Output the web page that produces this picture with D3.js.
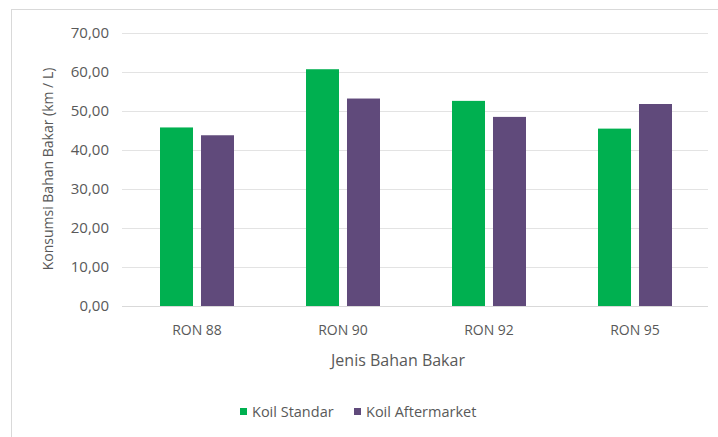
<!DOCTYPE html>
<html>
<head>
<meta charset="utf-8">
<script src="https://cdn.jsdelivr.net/npm/d3@7/dist/d3.min.js"></script>
<style>
  html, body { margin: 0; padding: 0; background: #fff; }
  svg { display: block; }
  text { font-family: "Open Sans", Lato, sans-serif; fill: #595959; }
</style>
</head>
<body>
<svg id="chart" width="718" height="437"></svg>
<script>
// Fuel consumption per fuel type, standard vs aftermarket ignition coil
const categories = ["RON 88", "RON 90", "RON 92", "RON 95"];
const seriesNames = ["Koil Standar", "Koil Aftermarket"];
const koilStandar = [45.7, 60.6, 52.5, 45.4];
const koilAftermarket = [43.7, 53.1, 48.4, 51.7];
const yTicks = [0, 10, 20, 30, 40, 50, 60, 70];
const colors = ["#00b050", "#604a7b"];

const svg = d3.select("#chart");
const W = 718, H = 437;
const plot = { left: 124, right: 708, top: 32.5, bottom: 306 };
const groupWidth = 74;

// Chart frame
svg.append("rect")
  .attr("x", 11.5).attr("y", 9.5)
  .attr("width", W + 10).attr("height", H - 7)
  .attr("fill", "#fff").attr("stroke", "#d9d9d9").attr("stroke-width", 1);

const x0 = d3.scaleBand().domain(categories).range([plot.left, plot.right]).paddingInner(0).paddingOuter(0);
const x1 = d3.scaleBand().domain(seriesNames).range([0, groupWidth]).paddingInner(0.195);
const y = d3.scaleLinear().domain([0, 70]).range([plot.bottom, plot.top]);

// Horizontal gridlines
svg.append("g").selectAll("line").data(yTicks).join("line")
  .attr("x1", plot.left - 2).attr("x2", plot.right)
  .attr("y1", d => Math.round(y(d)) + 0.5).attr("y2", d => Math.round(y(d)) + 0.5)
  .attr("stroke", "#e3e3e3").attr("stroke-width", 1);

// Y axis tick labels
const fmt = d => d3.format(".2f")(d).replace(".", ",");
const yAxis = d3.axisLeft(y).tickValues(yTicks).tickFormat(fmt).tickSize(0).tickPadding(0);
const gy = svg.append("g").attr("transform", `translate(109,0)`).call(yAxis);
gy.select(".domain").remove();
gy.selectAll("text").attr("font-size", 15).attr("fill", "#595959")
  .style("font-family", '"Open Sans", Lato, sans-serif');

// Bars
const rows = categories.map((c, i) => ({ cat: c, vals: [koilStandar[i], koilAftermarket[i]] }));
const groups = svg.append("g").selectAll("g").data(rows).join("g")
  .attr("transform", d => `translate(${x0(d.cat) + (x0.bandwidth() - groupWidth) / 2},0)`);
groups.selectAll("rect").data(d => d.vals.map((v, j) => ({ v, s: seriesNames[j], j })))
  .join("rect")
  .attr("x", d => x1(d.s))
  .attr("width", x1.bandwidth())
  .attr("y", d => y(d.v))
  .attr("height", d => y(0) - y(d.v))
  .attr("fill", d => colors[d.j]);

// Baseline
svg.append("line")
  .attr("x1", plot.left - 2).attr("x2", plot.right)
  .attr("y1", Math.round(y(0)) + 0.5).attr("y2", Math.round(y(0)) + 0.5)
  .attr("stroke", "#d9d9d9");

// X axis category labels
const xAxis = d3.axisBottom(x0).tickSize(0).tickPadding(0);
const gx = svg.append("g").attr("transform", `translate(0,${plot.bottom + 19})`).call(xAxis);
gx.select(".domain").remove();
gx.selectAll("text").attr("font-size", 14).attr("fill", "#595959")
  .style("font-family", '"Open Sans", Lato, sans-serif');

// Axis titles
svg.append("text").attr("x", 398).attr("y", 366)
  .attr("text-anchor", "middle").attr("font-size", 16).text("Jenis Bahan Bakar");
svg.append("text")
  .attr("transform", "translate(53,169) rotate(-90)")
  .attr("text-anchor", "middle").attr("font-size", 14)
  .text("Konsumsi Bahan Bakar (km / L)");

// Legend
const legend = svg.append("g").attr("transform", "translate(240,412)");
const legX = [0, 114];
seriesNames.forEach((name, i) => {
  const g = legend.append("g").attr("transform", `translate(${legX[i]},0)`);
  g.append("rect").attr("x", 0).attr("y", -4).attr("width", 7).attr("height", 7).attr("fill", colors[i]);
  g.append("text").attr("x", 12).attr("y", 0).attr("dy", "0.35em")
    .attr("font-size", 14.5).text(name);
});
</script>
</body>
</html>
